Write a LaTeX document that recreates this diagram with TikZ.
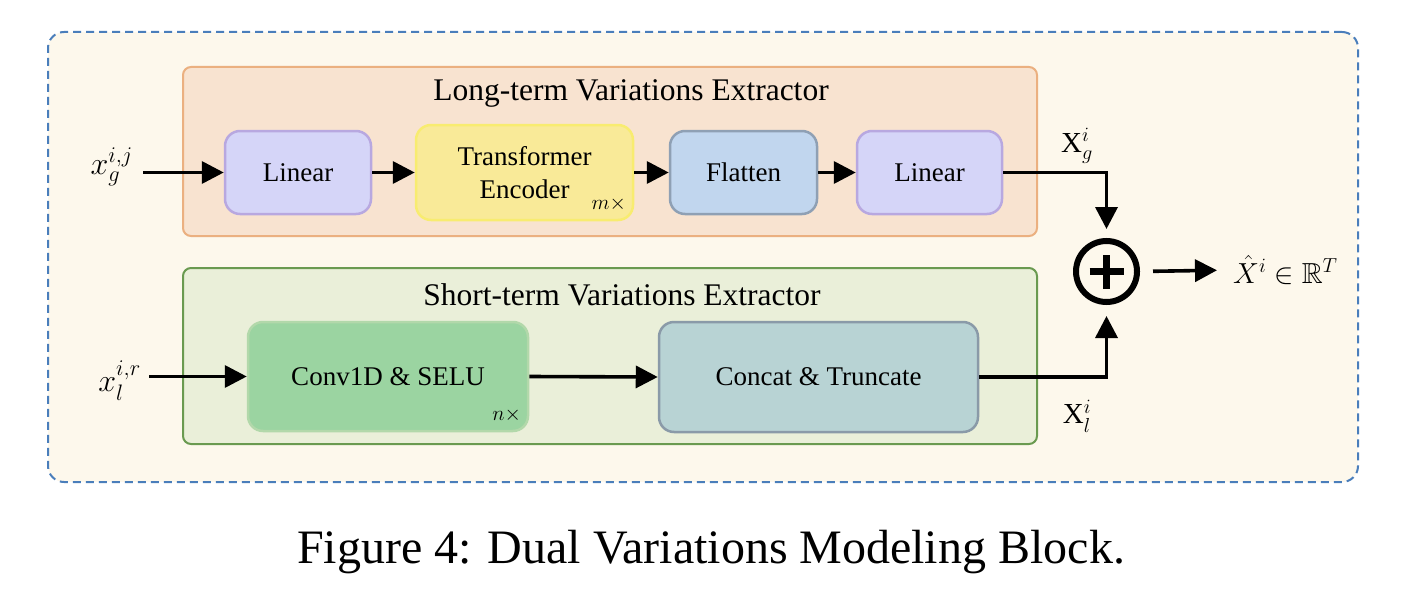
\RequirePackage{fix-cm}
\documentclass[tikz,border=0pt]{standalone}
\usepackage{amssymb}
\usepackage{fontspec}
\setmainfont{Liberation Serif}
\usetikzlibrary{arrows.meta}
\definecolor{outerfill}{HTML}{FDF8EC}
\definecolor{outerdraw}{HTML}{4A7EBB}
\definecolor{longfill}{HTML}{F8E3D0}
\definecolor{longdraw}{HTML}{EBB080}
\definecolor{shortfill}{HTML}{EAEFD9}
\definecolor{shortdraw}{HTML}{6A9A50}
\definecolor{linfill}{HTML}{D5D5F8}
\definecolor{lindraw}{HTML}{B8A8E0}
\definecolor{trfill}{HTML}{F9EA98}
\definecolor{trdraw}{HTML}{F8EC70}
\definecolor{flfill}{HTML}{C1D6EE}
\definecolor{fldraw}{HTML}{8FA0B4}
\definecolor{cvfill}{HTML}{9BD4A1}
\definecolor{cvdraw}{HTML}{B2D8AA}
\definecolor{ccfill}{HTML}{B8D3D4}
\definecolor{ccdraw}{HTML}{8A9AA8}
\tikzset{
  boxtext/.style={font=\fontsize{27}{33}\selectfont},
  titletext/.style={font=\fontsize{31.5}{36}\selectfont},
  mathlbl/.style={font=\fontsize{32}{38}\selectfont, inner sep=0pt},
  biglbl/.style={font=\fontsize{29}{34}\selectfont, inner sep=0pt},
  block/.style={rounded corners=15pt, line width=2.5pt, boxtext, align=center, inner sep=0pt},
  group/.style={rounded corners=8pt, line width=2pt, inner sep=0pt},
  arr/.style={line width=3.6pt, -{Triangle[length=22pt,width=22pt]}},
  rep/.style={font=\fontsize{21}{24}\selectfont, inner sep=0pt, anchor=south east},
}
\begin{document}
\begin{tikzpicture}[x=1pt,y=-1pt]
\useasboundingbox (0,0) rectangle (1402,594);
% outer dashed container
\node[draw=outerdraw, fill=outerfill, line width=2pt, dashed, dash pattern=on 8pt off 5pt, rounded corners=16pt, minimum width=1310pt, minimum height=450pt, inner sep=0pt] (outer) at (703,257) {};
% groups
\node[group, draw=longdraw, fill=longfill, minimum width=854pt, minimum height=169pt] (long) at (610,151.5) {};
\node[group, draw=shortdraw, fill=shortfill, minimum width=854pt, minimum height=176pt] (short) at (610,356) {};
\node[titletext] (longtitle) at (631,93) {Long-term Variations Extractor};
\node[titletext] (shorttitle) at (622,295) {Short-term Variations Extractor};
% blocks
\node[block, draw=lindraw, fill=linfill, minimum width=146pt, minimum height=83pt] (lin1) at (298,172.5) {Linear};
\node[block, draw=trdraw, fill=trfill, minimum width=217pt, minimum height=95pt] (trans) at (524.5,172.5) {Transformer\\Encoder};
\node[block, draw=fldraw, fill=flfill, minimum width=147pt, minimum height=83pt] (flat) at (743.5,172.5) {Flatten};
\node[block, draw=lindraw, fill=linfill, minimum width=145pt, minimum height=83pt] (lin2) at (929.5,172.5) {Linear};
\node[block, draw=cvdraw, fill=cvfill, minimum width=280pt, minimum height=109pt] (conv) at (388,376.5) {Conv1D \& SELU};
\node[block, draw=ccdraw, fill=ccfill, minimum width=319pt, minimum height=110pt] (concat) at (818.5,377) {Concat \& Truncate};
\node[rep] (mrep) at ([xshift=-8pt,yshift=10pt]trans.south east) {$m\times$};
\node[rep] (nrep) at ([xshift=-8pt,yshift=10pt]conv.south east) {$n\times$};
% labels
\node[mathlbl, anchor=east] (xg) at (133,167) {$x_g^{i,j}$};
\node[mathlbl, anchor=east] (xl) at (141,381) {$x_l^{i,r}$};
\node[biglbl] (Xg) at (1077,146) {$\mathrm{X}_g^i$};
\node[biglbl] (Xl) at (1077,416) {$\mathrm{X}_l^i$};
% sum
\node[circle, draw, line width=6pt, minimum size=61pt, inner sep=0pt] (sum) at (1106.5,271.5) {};
\draw[line width=7pt] ([xshift=-17pt]sum.center) -- ([xshift=17pt]sum.center);
\draw[line width=7pt] ([yshift=-17pt]sum.center) -- ([yshift=17pt]sum.center);
\node[biglbl, anchor=west] (out) at (1233,270) {$\hat{X}^i \in \mathbb{R}^T$};
% connectors
\draw[arr] ([xshift=10pt]xg.east |- lin1.west) -- (lin1.west);
\draw[arr] (lin1.east) -- (trans.west);
\draw[arr] (trans.east) -- (flat.west);
\draw[arr] (flat.east) -- (lin2.west);
\draw[arr] ([xshift=8pt]xl.east |- conv.west) -- (conv.west);
\draw[arr] (conv.east) -- (concat.west);
\draw[arr, shorten >=9pt] (lin2.east) -| (sum.north);
\draw[arr, shorten >=11pt] (concat.east) -| (sum.south);
\draw[arr, shorten <=13pt, shorten >=16pt] (sum.east) -- (out.west);
% caption
\node[font=\fontsize{48}{56}\selectfont] (caption) at (711,552) {Figure 4: Dual Variations Modeling Block.};
\end{tikzpicture}
\end{document}
